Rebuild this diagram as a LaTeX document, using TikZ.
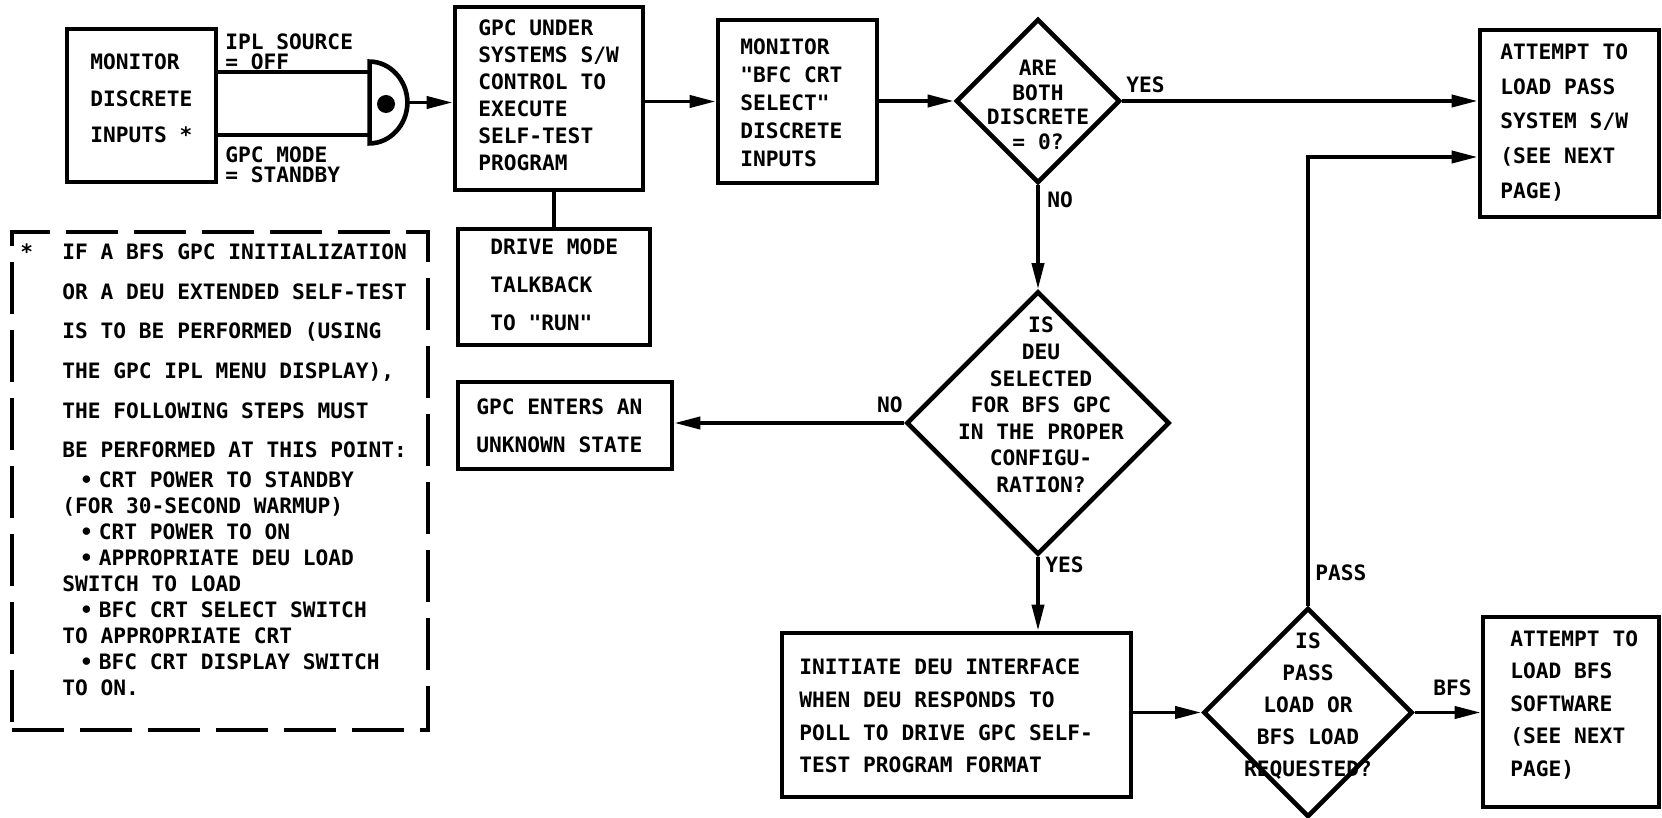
\documentclass[tikz,border=0pt]{standalone}
\usepackage{fontspec}
\newfontfamily\lbl{DejaVu Sans Mono}
\usetikzlibrary{shapes.geometric,arrows.meta}
\begin{document}
\begin{tikzpicture}[x=0.5pt,y=-0.5pt,
  frame/.style={draw, line width=2.3pt, inner sep=0pt, rectangle},
  dia/.style={draw, line width=2.3pt, inner sep=0pt, shape=diamond, aspect=1},
  txt/.style={font={\lbl\bfseries\fontsize{10.6pt}{#1}\selectfont}, inner sep=0pt, align=left, anchor=west},
  txt/.default=13pt,
  ctxt/.style={font={\lbl\bfseries\fontsize{10.6pt}{#1}\selectfont}, inner sep=0pt, align=center, anchor=center},
  ctxt/.default=13pt,
  conn/.style={line width=1.9pt},
  arr/.style={line width=1.9pt, -{Triangle[length=13pt,width=6pt]}}]
\fill[white] (0,0) rectangle (1662,818);
\useasboundingbox (0,0) rectangle (1662,818);

% frames
\node[frame, minimum width=74.5pt, minimum height=76.5pt] (mon) at (141.5,105.5) {};
\node[frame, minimum width=94pt, minimum height=91.5pt] (gpc) at (549,98.5) {};
\node[frame, minimum width=96pt, minimum height=58pt] (drive) at (554,287) {};
\node[frame, minimum width=79.5pt, minimum height=81.5pt] (mon2) at (797.5,101.5) {};
\node[frame, minimum width=89.5pt, minimum height=93.5pt] (pass) at (1569.5,123.5) {};
\node[frame, minimum width=107pt, minimum height=43.5pt] (unk) at (565,425.5) {};
\node[frame, minimum width=174.5pt, minimum height=82pt] (init) at (956.5,715) {};
\node[frame, minimum width=88pt, minimum height=95pt] (bfs) at (1571,712) {};
\node[frame, dash pattern=on 26pt off 8pt, minimum width=208pt, minimum height=249pt] (note) at (220,481) {};
\node[dia, minimum width=82pt, minimum height=82pt] (d1) at (1038,101) {};
\node[dia, minimum width=131.5pt, minimum height=131.5pt] (d2) at (1038,423) {};
\node[dia, minimum width=104.5pt, minimum height=104.5pt] (d3) at (1308,712.5) {};

% AND gate
\node[inner sep=0pt, minimum width=18.5pt, minimum height=40.5pt] (gate) at (388.5,102.5) {};
\draw[line width=2.3pt] (gate.north west) .. controls +(20.4,0) and +(0,-22.4) .. (gate.east)
  .. controls +(0,22.4) and +(20.4,0) .. (gate.south west) -- cycle;
\node[circle, fill, inner sep=0pt, minimum size=9pt] (dot) at (386,104) {};
\coordinate (g1) at (370,72);
\coordinate (g2) at (370,135);
\coordinate (passy) at (0,157);

% connectors
\draw[conn] (mon.east |- g1) -- (g1);
\draw[conn] (mon.east |- g2) -- (g2);
\draw[arr] (gate.east) -- (gate.east -| gpc.west);
\draw[conn] (drive.north |- gpc.south) -- (drive.north);
\draw[arr] (gpc.east |- mon2.west) -- (mon2.west);
\draw[arr] (mon2.east |- d1.west) -- (d1.west);
\draw[arr] (d1.east) -- (d1.east -| pass.west);
\draw[arr] (d1.south) -- (d2.north);
\draw[arr] (d2.west) -- (d2.west -| unk.east);
\draw[arr] (d2.south) -- (d2.south |- init.north);
\draw[arr] (init.east |- d3.west) -- (d3.west);
\draw[arr] (d3.east) -- (d3.east -| bfs.west);
\draw[arr] (d3.north) |- (pass.west |- passy);

% texts
\node[txt=18.25pt] (monT) at (90,98.5) {MONITOR\\DISCRETE\\INPUTS *};
\node[txt=10pt] (iplT) at (225,52) {IPL SOURCE\\= OFF};
\node[txt=10pt] (modeT) at (225,165) {GPC MODE\\= STANDBY};
\node[txt=13.5pt] (gpcT) at (478,95) {GPC UNDER\\SYSTEMS S/W\\CONTROL TO\\EXECUTE\\SELF-TEST\\PROGRAM};
\node[txt=19pt] (driveT) at (490,285) {DRIVE MODE\\TALKBACK\\TO "RUN"};
\node[txt=14pt] (mon2T) at (740,103) {MONITOR\\"BFC CRT\\SELECT"\\DISCRETE\\INPUTS};
\node[ctxt=12.3pt] (d1T) at (1038,105) {ARE\\BOTH\\DISCRETE\\= 0?};
\node[txt] (yes1) at (1126,85) {YES};
\node[txt] (no1) at (1047,200) {NO};
\node[txt=17.4pt] (passT) at (1500,122.5) {ATTEMPT TO\\LOAD PASS\\SYSTEM S/W\\(SEE NEXT\\PAGE)};
\node[ctxt=13.3pt] (d2T) at (1041,405) {IS\\DEU\\SELECTED\\FOR BFS GPC\\IN THE PROPER\\CONFIGU-\\RATION?};
\node[txt, anchor=east] (no2) at (903,405) {NO};
\node[txt=19pt] (unkT) at (476,426) {GPC ENTERS AN\\UNKNOWN STATE};
\node[txt] (yes2) at (1045,565) {YES};
\node[txt=16.3pt] (initT) at (799,716) {INITIATE DEU INTERFACE\\WHEN DEU RESPONDS TO\\POLL TO DRIVE GPC SELF-\\TEST PROGRAM FORMAT};
\node[ctxt=16pt] (d3T) at (1308,706) {IS\\PASS\\LOAD OR\\BFS LOAD\\REQUESTED?};
\node[txt] (passL) at (1315,573) {PASS};
\node[txt] (bfsL) at (1433,688) {BFS};
\node[txt=16.25pt] (bfsT) at (1510,705) {ATTEMPT TO\\LOAD BFS\\SOFTWARE\\(SEE NEXT\\PAGE)};
\node[txt=13pt] (noteT) at (62,470) {\llap{\makebox[21pt][l]{*}}IF A BFS GPC INITIALIZATION\\[6.8pt]
OR A DEU EXTENDED SELF-TEST\\[6.8pt]
IS TO BE PERFORMED (USING\\[6.8pt]
THE GPC IPL MENU DISPLAY),\\[6.8pt]
THE FOLLOWING STEPS MUST\\[6.8pt]
BE PERFORMED AT THIS POINT:\\[2pt]
\hspace*{8.8pt}•\hspace{3pt}CRT POWER TO STANDBY\\
(FOR 30-SECOND WARMUP)\\
\hspace*{8.8pt}•\hspace{3pt}CRT POWER TO ON\\
\hspace*{8.8pt}•\hspace{3pt}APPROPRIATE DEU LOAD\\
SWITCH TO LOAD\\
\hspace*{8.8pt}•\hspace{3pt}BFC CRT SELECT SWITCH\\
TO APPROPRIATE CRT\\
\hspace*{8.8pt}•\hspace{3pt}BFC CRT DISPLAY SWITCH\\
TO ON.};
\end{tikzpicture}
\end{document}
